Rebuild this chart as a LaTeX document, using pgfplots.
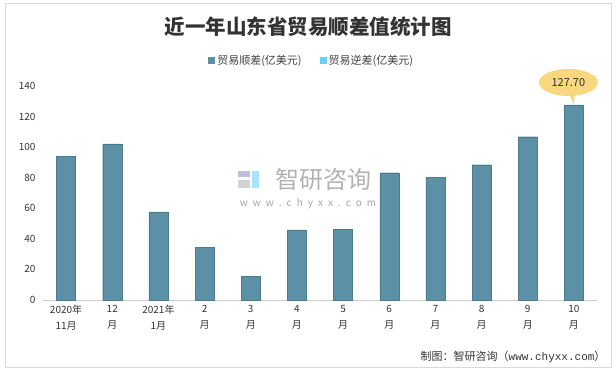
\documentclass[border=0pt]{standalone}
\usepackage{pgfplots}
\pgfplotsset{compat=1.18}
\usepackage{fontspec}
\setmainfont{Noto Sans CJK SC}
\newfontfamily\monofont{Liberation Mono}
\definecolor{barcol}{HTML}{5B90A6}
\definecolor{lightcol}{HTML}{6CCFF6}
\definecolor{callout}{HTML}{F9D77E}
\begin{document}
\begin{tikzpicture}[x=1pt,y=1pt]
\path[use as bounding box] (0,0) rectangle (616,-371);
\draw[color=black!15, line width=0.8pt] (5,-3) rectangle (611,-367);
\node[font=\bfseries\fontsize{20.5}{23}\selectfont, text=black!80] at (308,-27) {近一年山东省贸易顺差值统计图};
% watermark
\fill[blue!25!gray!40] (238,-171) rectangle (250,-177);
\fill[gray!35] (238,-180) rectangle (250,-188);
\fill[blue!30!cyan!35] (252,-171) rectangle (259,-188);
\node[font=\fontsize{24}{26}\selectfont, text=black!30] at (323,-179) {智研咨询};
\node[font=\fontsize{10}{11}\selectfont, text=black!35] at (308,-204) {w\,\,\,w\,\,\,w\,\,\,.\,\,\,c\,\,\,h\,\,\,y\,\,\,x\,\,\,x\,\,\,.\,\,\,c\,\,\,o\,\,\,m};
\begin{axis}[
  at={(43pt,-300pt)}, anchor=south west,
  scale only axis, width=554pt, height=214pt,
  xmin=-0.5, xmax=11.5, ymin=0, ymax=140,
  axis x line=bottom, axis y line=left,
  x axis line style={draw=black!20, -},
  y axis line style={draw=none},
  major tick length=0pt,
  ytick={0,20,...,140},
  xtick={0,...,11},
  xticklabels={{2020年\\11月},{12\\月},{2021年\\1月},{2\\月},{3\\月},{4\\月},{5\\月},{6\\月},{7\\月},{8\\月},{9\\月},{10\\月}},
  xticklabel style={align=center, font=\fontsize{10}{16}\selectfont, text=black!80, yshift=-2pt},
  yticklabel style={font=\fontsize{10}{12}\selectfont, text=black!80, xshift=-4pt},
  /pgf/number format/assume math mode=true,
  clip=false,
  legend style={at={(0.485,1.12)}, anchor=center, draw=none, fill=none,
    font=\fontsize{11}{13}\selectfont, text=black!75,
    /tikz/every even column/.append style={column sep=16pt}},
  legend columns=2,
  legend image code/.code={\fill[#1, draw=none] (0pt,-3.5pt) rectangle (7pt,3.5pt);},
]
\addplot[ybar, bar width=19pt, fill=barcol, draw=barcol!85!black, line width=0.3pt]
  coordinates {(0,94.2) (1,102.2) (2,57.6) (3,34.5) (4,15.7) (5,45.8) (6,46.4) (7,83.3) (8,80.4) (9,88.5) (10,106.8) (11,127.7)};
\addlegendentry{贸易顺差(亿美元)}
\addlegendimage{fill=lightcol, draw=none}
\addlegendentry{贸易逆差(亿美元)}
\fill[callout] (axis cs:10.80,141) -- (axis cs:11,127.7) -- (axis cs:11.03,141) -- cycle;
\fill[callout] (axis cs:10.88,142.3) ellipse [x radius=29.5pt, y radius=13.5pt];
\node[font=\fontsize{11}{13}\selectfont, text=black!80] at (axis cs:10.88,142.3) {127.70};
\end{axis}
\node[anchor=east, font=\fontsize{11}{12}\selectfont, text=black!80] at (609,-357) {制图：智研咨询（{\monofont www.chyxx.com}）};
\end{tikzpicture}
\end{document}
